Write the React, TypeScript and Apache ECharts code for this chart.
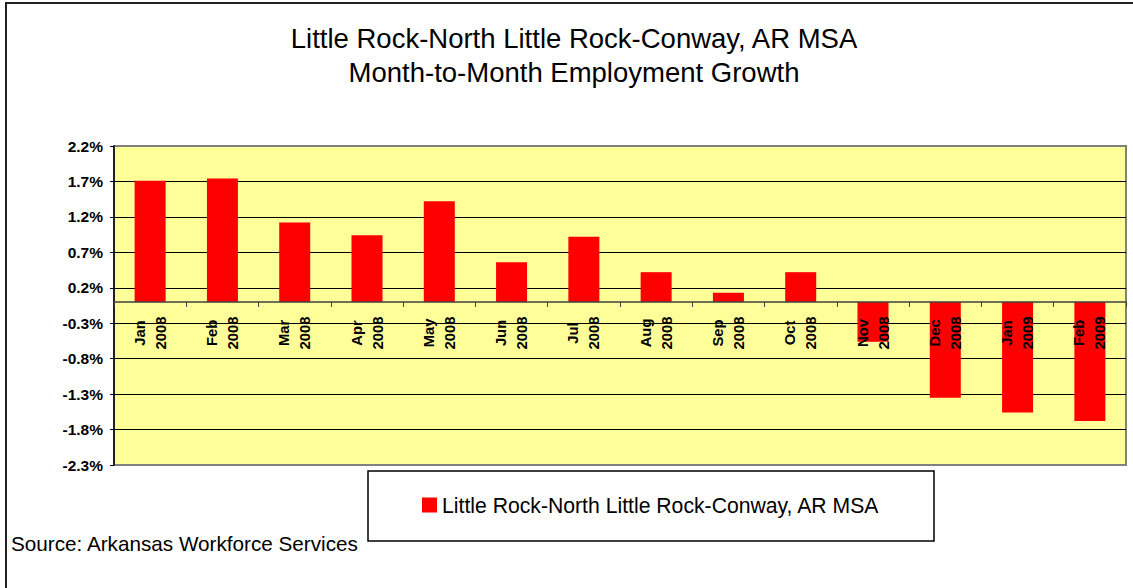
import React, { useEffect, useRef } from "react";
import * as echarts from "echarts";

const months = ["Jan", "Feb", "Mar", "Apr", "May", "Jun", "Jul", "Aug", "Sep", "Oct", "Nov", "Dec", "Jan", "Feb"];
const years = ["2008", "2008", "2008", "2008", "2008", "2008", "2008", "2008", "2008", "2008", "2008", "2008", "2009", "2009"];
const growth = [1.71, 1.74, 1.12, 0.94, 1.42, 0.56, 0.92, 0.42, 0.13, 0.42, -0.56, -1.35, -1.56, -1.68];
const yTicks = [-2.3, -1.8, -1.3, -0.8, -0.3, 0.2, 0.7, 1.2, 1.7, 2.2];
const seriesName = "Little Rock-North Little Rock-Conway, AR MSA";
const titleText = "Little Rock-North Little Rock-Conway, AR MSA\nMonth-to-Month Employment Growth";
const sourceText = "Source: Arkansas Workforce Services";

const FONT = "'Liberation Sans', Arial, sans-serif";

const GRID_TOP = 146;
const GRID_BOTTOM = 123;
const CHART_H = 588;

export default function App() {
  const ref = useRef<HTMLDivElement>(null);
  useEffect(() => {
    if (!ref.current) return;
    const chart = echarts.init(ref.current, null, { renderer: "svg" });
    const categories = months.map((m, i) => m + "\n" + years[i]);
    const yMin = yTicks[0];
    const yMax = yTicks[yTicks.length - 1];
    const step = Math.round((yTicks[1] - yTicks[0]) * 10) / 10;
    const splitColors = yTicks.map((_, i) => (i === 0 || i === yTicks.length - 1 ? "#808080" : "#000000"));
    const plotH = CHART_H - GRID_TOP - GRID_BOTTOM;
    const zeroFromBottom = ((0 - yMin) / (yMax - yMin)) * plotH;
    chart.setOption({
      animation: false,
      textStyle: { fontFamily: FONT },
      title: {
        text: titleText,
        left: 574,
        textAlign: "center",
        top: 21,
        padding: 0,
        textStyle: { fontFamily: FONT, fontSize: 27.5, fontWeight: "normal", color: "#000", lineHeight: 34 },
      },
      grid: {
        left: 114,
        right: 7,
        top: GRID_TOP,
        bottom: GRID_BOTTOM,
        show: true,
        backgroundColor: "#FFFF99",
        borderColor: "#808080",
        borderWidth: 2,
      },
      legend: {
        data: [seriesName],
        left: 422,
        top: 494,
        padding: 0,
        icon: "rect",
        itemWidth: 15,
        itemHeight: 15,
        textStyle: { fontFamily: FONT, fontSize: 21.2, color: "#000", lineHeight: 22 },
      },
      graphic: [
        {
          type: "rect",
          z: -10,
          shape: { x: 6, y: 3, width: 1200, height: 700 },
          style: { fill: "none", stroke: "#222", lineWidth: 2 },
        },
        {
          type: "rect",
          z: -5,
          shape: { x: 368, y: 471, width: 566, height: 70 },
          style: { fill: "#fff", stroke: "#000", lineWidth: 1.5 },
        },
        {
          type: "text",
          x: 11,
          y: 543,
          style: {
            text: sourceText,
            fontFamily: FONT,
            fontSize: 20.7,
            fill: "#000",
            textAlign: "left",
            verticalAlign: "middle",
            textVerticalAlign: "middle",
          },
        },
      ],
      xAxis: {
        type: "category",
        data: categories,
        z: 10,
        position: "bottom",
        offset: -zeroFromBottom,
        axisLine: { onZero: false, lineStyle: { color: "#404040", width: 1.5 } },
        axisTick: { show: true, length: 5, lineStyle: { color: "#404040" } },
        axisLabel: {
          interval: 0,
          rotate: 90,
          align: "center",
          verticalAlign: "middle",
          margin: 31,
          fontFamily: FONT,
          fontSize: 14.8,
          fontWeight: "bold",
          lineHeight: 21,
          color: "#000",
        },
        splitLine: { show: false },
      },
      yAxis: {
        type: "value",
        min: yMin,
        max: yMax,
        interval: step,
        axisLine: { show: true, lineStyle: { color: "#000", width: 1.5 } },
        axisTick: { show: true, length: 4, lineStyle: { color: "#000" } },
        axisLabel: {
          margin: 11,
          fontFamily: FONT,
          fontSize: 15.5,
          fontWeight: "bold",
          color: "#000",
          formatter: (v: number) => v.toFixed(1) + "%",
        },
        splitLine: { show: true, lineStyle: { color: splitColors, width: 1 } },
      },
      series: [
        {
          name: seriesName,
          type: "bar",
          data: growth,
          barWidth: 31,
          itemStyle: { color: "#FF0000" },
        },
      ],
    });
    return () => chart.dispose();
  }, []);
  return (
    <div
      ref={ref}
      style={{ position: "fixed", left: 0, top: 0, width: 1133, height: 588, background: "#fff" }}
    />
  );
}
